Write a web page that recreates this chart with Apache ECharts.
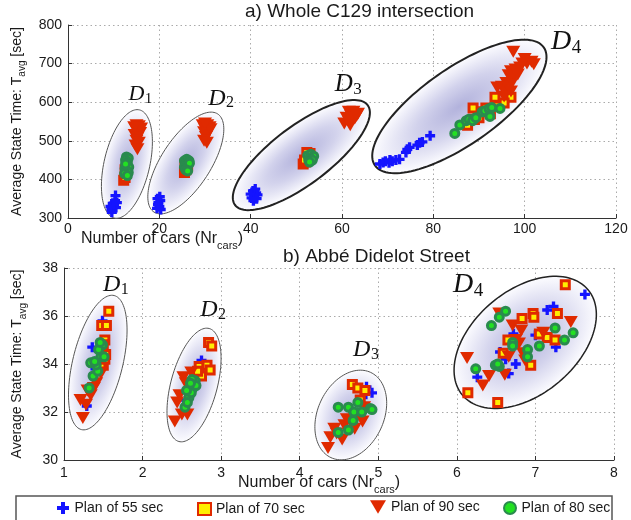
<!DOCTYPE html>
<html><head><meta charset="utf-8">
<script src="https://cdn.jsdelivr.net/npm/echarts@6/dist/echarts.min.js"></script>
<style>html,body{margin:0;padding:0;background:#fff}#c{width:631px;height:520px}</style>
</head><body><div id="c"></div>
<script>
// ---------- DATA ----------
const seriesNames = ['Plan of 55 sec', 'Plan of 70 sec', 'Plan of 90 sec', 'Plan of 80 sec'];
const topTitle = 'a) Whole C129 intersection';
const bottomTitle = 'b) Abbé Didelot Street';
const topXTicks = {min: 0, max: 120, step: 20};
const topYTicks = {min: 300, max: 800, step: 100};
const botXTicks = {min: 1, max: 8, step: 1};
const botYTicks = {min: 30, max: 38, step: 2};

// (a) Whole C129 intersection  [Nr cars, Tavg sec]
const topPlan55 = [
  [9.5,322],[10,330],[10.5,327],[9.8,338],[10.3,345],[10.4,358],[9.6,315],[10.1,335],[9.3,330],[10.7,340],
  [19.5,325],[20,330],[19.8,340],[20.2,345],[19.6,350],[20.1,355],[19.7,335],[20.3,322],
  [40.2,352],[40.8,358],[41.2,365],[40.5,370],[41,375],[40.6,345],[41.5,360],[40,362],[41.3,350],
  [68.3,440],[69,444],[69.5,447],[70.3,443],[71,447],[71.8,450],[72.6,452],[70.5,450],[74,470],[74.3,478],
  [74.8,483],[76.5,489],[77,495],[77.6,497],[79.3,513]
];
const topPlan70 = [
  [12.2,398],[12.5,405],[12.8,415],[12.5,425],
  [25.5,418],[25.8,425],[26,430],[26.2,435],[25.6,440],
  [51.5,440],[52,445],[52.5,455],[53,467],[52.3,470],[51.8,450],
  [87.5,540],[88.7,585],[89,555],[90,560],[91,575],[91.5,585],[93.5,613],[94,590],[97,613],[95.5,598],[92.5,570]
];
const topPlan90 = [
  [15,540],[15.5,538],[14.8,530],[15.3,525],[15.8,520],[14.6,515],[15.2,508],[15,500],[15.5,495],[14.8,488],[15.2,478],[16,532],[14.5,535],
  [29.5,540],[30.5,540],[31,535],[30,530],[29.8,522],[30.6,520],[30.2,510],[29.8,500],[30.4,495],[31.2,530],[30,545],
  [61.5,575],[62.5,575],[63.5,570],[62,565],[61,560],[62.8,558],[61.5,550],[60.5,545],[61.8,540],[63.2,565],
  [97.5,731],[100,712],[101.5,705],[102,698],[100.5,700],[99,690],[98,685],[97,680],[96.5,670],[97.5,660],[98.5,672],
  [96,650],[97,645],[95,640],[94,638],[96,625],[97,628],[95.5,615],[99.5,700]
];
const topPlan80 = [
  [12.8,458],[13.2,455],[12.6,450],[13,445],[12.8,438],[13.3,432],[12.5,428],[12.8,422],[13.2,418],[12.4,415],[13,410],[12.6,440],
  [25.5,448],[26,452],[26.5,448],[25.8,440],[26.3,438],[25.5,432],[26,430],[26.6,442],[25.8,425],[26.2,422],
  [52.5,462],[53.2,465],[53.8,460],[53,455],[52.7,450],[53.5,450],[52.9,445],
  [84.7,519],[85.8,541],[87.2,552],[87.8,556],[88.6,552],[89.3,560],[90.7,575],[91.3,578],[92.4,563],[92.2,583],[92.8,586],[94.6,584]
];

// (b) Abbé Didelot Street
const botPlan55 = [
  [1.29,32.25],[1.36,34.7],[1.49,35.8],[1.45,34.2],[1.40,33.8],
  [2.75,34.15],[2.6,33.0],[2.55,32.5],
  [4.85,33.05],[4.92,32.8],[4.8,32.6],
  [7.63,36.9],[7.15,36.25],[7.23,36.4],[7.26,34.7],[6.26,33.45],[7.0,35.2],[6.72,35.25],[6.66,33.6],[6.62,34.2],[6.75,34.0],[6.55,34.5]
];
const botPlan70 = [
  [1.57,36.2],[1.48,35.6],[1.54,35.6],[1.52,35.0],[1.50,34.8],[1.53,34.4],[1.50,33.95],[1.47,34.0],[1.52,34.2],
  [2.84,34.9],[2.88,34.75],[2.72,33.9],[2.82,33.95],[2.86,33.75],[2.75,33.5],[2.70,33.7],
  [4.67,33.15],[4.74,33.0],[4.83,32.9],[4.77,32.5],
  [7.38,37.3],[6.14,32.8],[6.52,32.4],[6.83,35.9],[6.97,36.1],[7.28,36.1],[7.05,35.25],[7.15,35.1],[7.25,35.0],
  [6.59,34.45],[6.65,35.0],[6.94,33.95],[6.98,35.95]
];
const botPlan90 = [
  [1.24,31.75],[1.21,32.5],[1.34,32.7],[1.30,32.9],[1.41,33.2],[1.47,33.6],[1.38,33.0],[1.28,32.3],
  [2.41,31.6],[2.57,31.9],[2.47,32.7],[2.44,32.4],[2.52,33.45],[2.62,33.65],[2.50,31.9],[2.65,33.1],[2.55,33.2],
  [4.36,30.5],[4.39,30.95],[4.44,31.3],[4.54,30.85],[4.57,31.45],[4.69,31.8],[4.80,31.6],[4.82,32.2],[4.47,31.1],[4.60,31.7],[4.70,31.3],
  [6.33,33.1],[6.13,34.25],[6.41,33.5],[6.61,33.55],[6.66,34.3],[6.71,35.6],[6.82,35.4],[6.79,34.85],[6.84,34.45],
  [7.45,35.75],[7.1,35.3],[6.87,34.15],[6.54,36.1],[6.75,35.0]
];
const botPlan80 = [
  [1.32,33.0],[1.37,33.5],[1.43,33.7],[1.34,34.05],[1.41,33.96],[1.47,34.3],[1.49,34.8],[1.44,34.6],[1.51,34.3],[1.46,34.9],[1.39,34.1],
  [2.54,32.2],[2.59,32.6],[2.64,33.0],[2.67,33.3],[2.62,32.8],[2.57,32.4],[2.63,33.35],[2.68,33.1],[2.56,32.9],[2.61,33.2],
  [4.49,32.2],[4.62,32.2],[4.74,32.4],[4.90,32.15],[4.49,31.15],[4.62,31.25],[4.68,31.65],[4.69,32.0],[4.79,32.0],[4.92,32.1],
  [6.62,36.2],[6.54,35.95],[6.44,35.6],[6.24,33.8],[6.49,33.95],[6.54,33.9],[6.71,34.9],[6.71,34.75],[6.9,34.6],[6.9,34.3],
  [7.05,34.75],[7.25,35.5],[7.37,35.0],[7.48,35.3],[6.52,34.0]
];

// Cluster annotations (ellipse centres and D-label anchors, in data units)
const clusterNames = ['1', '2', '3', '4'];
const topEllipseCenters = [[12.9,440],[25.8,442.5],[51.1,463],[85.7,589]];
const botEllipseCenters = [[1.43,34.06],[2.655,33.125],[4.65,31.875],[6.87,34.9]];
const topLabelAnchors = [[15.0,620],[32.6,610],[60.4,645],[108,756]];
const botLabelAnchors = [[1.607,37.29],[2.845,36.25],[4.79,34.6],[6.08,37.29]];

// ---------- STYLE / GEOMETRY (pixels) ----------
const topEllipseGeom = [
  {a:55.5,b:22.8,angle:77,lw:1,color:'#555'},
  {a:58.5,b:24.7,angle:57,lw:1,color:'#555'},
  {a:83,b:29,angle:37,lw:2,color:'#222'},
  {a:103,b:38,angle:35,lw:2,color:'#222'}
];
const botEllipseGeom = [
  {a:69,b:25,angle:76.3,lw:1,color:'#555'},
  {a:58.5,b:23.2,angle:75,lw:1,color:'#555'},
  {a:47,b:33,angle:65,lw:1,color:'#555'},
  {a:82,b:52,angle:40,lw:1.5,color:'#222'}
];
const topLabelSizes = [22,24,25,28];
const botLabelSizes = [24,24,24,28];

const FONT = 'Liberation Sans, Arial, sans-serif';
const SERIF = 'Liberation Serif, Times New Roman, serif';
const plusPath = 'path://M3,0H6V3H9V6H6V9H3V6H0V3H3Z';
const downTriPath = 'path://M0,0H14L7,12Z';

const ellGradient = {
  type: 'radial', x: 0.5, y: 0.5, r: 0.5,
  colorStops: [
    {offset: 0, color: '#b2b2dc'},
    {offset: 0.5, color: '#d2d2ec'},
    {offset: 1, color: '#fcfcff'}
  ]
};

function ellipseRenderer(geom) {
  return function (params, api) {
    const s = geom[params.dataIndex];
    const c = api.coord([api.value(0), api.value(1)]);
    const th = s.angle * Math.PI / 180;
    const pts = [];
    for (let i = 0; i < 120; i++) {
      const t = i / 120 * Math.PI * 2;
      const x = s.a * Math.cos(t), y = s.b * Math.sin(t);
      pts.push([c[0] + x * Math.cos(th) - y * Math.sin(th), c[1] - (x * Math.sin(th) + y * Math.cos(th))]);
    }
    return {
      type: 'group',
      children: [
        {type: 'circle', x: c[0], y: c[1], rotation: th, scaleX: s.a / s.b, scaleY: 1,
         shape: {cx: 0, cy: 0, r: s.b}, style: {fill: ellGradient}},
        {type: 'polygon', shape: {points: pts}, style: {fill: 'none', stroke: s.color, lineWidth: s.lw}}
      ]
    };
  };
}

function labelRenderer(sizes) {
  return function (params, api) {
    const fs = sizes[params.dataIndex];
    const c = api.coord([api.value(0), api.value(1)]);
    return {
      type: 'group',
      children: [
        {type: 'text', x: c[0], y: c[1], style: {text: 'D', font: 'italic ' + fs + 'px ' + SERIF,
          fill: '#111', textAlign: 'center', textVerticalAlign: 'middle'}},
        {type: 'text', x: c[0] + fs * 0.38, y: c[1] + fs * 0.2, style: {text: clusterNames[params.dataIndex],
          font: Math.round(fs * 0.68) + 'px ' + SERIF, fill: '#111', textAlign: 'left', textVerticalAlign: 'middle'}}
      ]
    };
  };
}

const axisCommon = {
  type: 'value',
  axisLine: {show: true, onZero: false, lineStyle: {color: '#333', width: 1}},
  axisTick: {show: true, inside: true, length: 4, lineStyle: {color: '#333'}},
  axisLabel: {fontSize: 14, color: '#1a1a1a', fontFamily: FONT},
  splitLine: {show: true, lineStyle: {type: [1.5, 3], color: '#aaa', width: 1}}
};

const yName = 'Average State Time: T{s|avg} [sec]';
const yNameStyle = {fontSize: 14, color: '#1a1a1a', fontFamily: FONT,
  rich: {s: {fontSize: 10, fontFamily: FONT, color: '#1a1a1a', padding: [12, 0, 0, 0]}}};

function scatterSet(d55, d70, d90, d80, idx) {
  return [
    {name: seriesNames[0], type: 'scatter', xAxisIndex: idx, yAxisIndex: idx, z: 3, data: d55,
     symbol: plusPath, symbolSize: 10, itemStyle: {color: '#1414ff', opacity: 1}},
    {name: seriesNames[1], type: 'scatter', xAxisIndex: idx, yAxisIndex: idx, z: 3, data: d70,
     symbol: 'rect', symbolSize: 8, itemStyle: {color: '#ffee00', borderColor: '#e02a00', borderWidth: 3, opacity: 1}},
    {name: seriesNames[2], type: 'scatter', xAxisIndex: idx, yAxisIndex: idx, z: 3, data: d90,
     symbol: downTriPath, symbolSize: [14, 12], itemStyle: {color: '#e02a00', opacity: 1}},
    {name: seriesNames[3], type: 'scatter', xAxisIndex: idx, yAxisIndex: idx, z: 3, data: d80,
     symbol: 'circle', symbolSize: 8, itemStyle: {color: '#22e022', borderColor: '#2a8a4e', borderWidth: 3, opacity: 1}}
  ];
}

const legendText = {fontSize: 14, color: '#1a1a1a', fontFamily: FONT};
function oneLegend(name, left, w, h, top) {
  return {data: [name], left: left, top: top, itemWidth: w, itemHeight: h, padding: 0,
    selectedMode: false, textStyle: legendText, itemGap: 0};
}

const option = {
  animation: false,
  backgroundColor: '#fff',
  title: [
    {text: topTitle, left: 245, top: 2, padding: 0,
     textStyle: {fontSize: 19, fontWeight: 'normal', fontFamily: FONT, color: '#1a1a1a'}},
    {text: bottomTitle, left: 283, top: 247, padding: 0,
     textStyle: {fontSize: 19, fontWeight: 'normal', fontFamily: FONT, color: '#1a1a1a'}},
    {text: 'Number of cars (Nr{s|cars})', left: 81, top: 226, padding: 0,
     textStyle: {fontSize: 16, fontWeight: 'normal', fontFamily: FONT, color: '#1a1a1a',
       rich: {s: {fontSize: 11, fontFamily: FONT, color: '#1a1a1a', padding: [14, 0, 0, 0]}}}},
    {text: 'Number of cars (Nr{s|cars})', left: 238, top: 470, padding: 0,
     textStyle: {fontSize: 16, fontWeight: 'normal', fontFamily: FONT, color: '#1a1a1a',
       rich: {s: {fontSize: 11, fontFamily: FONT, color: '#1a1a1a', padding: [14, 0, 0, 0]}}}}
  ],
  legend: [
    oneLegend(seriesNames[0], 57, 13, 12, 501),
    oneLegend(seriesNames[1], 197, 13, 12, 502),
    oneLegend(seriesNames[2], 370, 16, 14, 500),
    oneLegend(seriesNames[3], 503, 13, 12, 501)
  ],
  graphic: [
    {type: 'rect', shape: {x: 16, y: 496, width: 596, height: 40}, style: {fill: 'none', stroke: '#555', lineWidth: 1.5}, z: -1}
  ],
  grid: [
    {left: 68, right: 15, top: 25, height: 193},
    {left: 64, right: 17, top: 268, height: 192}
  ],
  xAxis: [
    Object.assign({}, axisCommon, {gridIndex: 0, min: topXTicks.min, max: topXTicks.max, interval: topXTicks.step,
      axisLabel: Object.assign({}, axisCommon.axisLabel, {margin: 4})}),
    Object.assign({}, axisCommon, {gridIndex: 1, min: botXTicks.min, max: botXTicks.max, interval: botXTicks.step,
      axisLabel: Object.assign({}, axisCommon.axisLabel, {margin: 6})})
  ],
  yAxis: [
    Object.assign({}, axisCommon, {gridIndex: 0, min: topYTicks.min, max: topYTicks.max, interval: topYTicks.step,
      name: yName, nameLocation: 'middle', nameRotate: 90, nameGap: 40, nameTextStyle: yNameStyle,
      axisLabel: Object.assign({}, axisCommon.axisLabel, {margin: 6})}),
    Object.assign({}, axisCommon, {gridIndex: 1, min: botYTicks.min, max: botYTicks.max, interval: botYTicks.step,
      name: yName, nameLocation: 'middle', nameRotate: 90, nameGap: 36, nameTextStyle: yNameStyle,
      axisLabel: Object.assign({}, axisCommon.axisLabel, {margin: 6})})
  ],
  series: [
    {type: 'custom', xAxisIndex: 0, yAxisIndex: 0, z: 1, silent: true, data: topEllipseCenters,
     renderItem: ellipseRenderer(topEllipseGeom), clip: false},
    {type: 'custom', xAxisIndex: 1, yAxisIndex: 1, z: 1, silent: true, data: botEllipseCenters,
     renderItem: ellipseRenderer(botEllipseGeom), clip: false},
    ...scatterSet(topPlan55, topPlan70, topPlan90, topPlan80, 0),
    ...scatterSet(botPlan55, botPlan70, botPlan90, botPlan80, 1),
    {type: 'custom', xAxisIndex: 0, yAxisIndex: 0, z: 5, silent: true, data: topLabelAnchors,
     renderItem: labelRenderer(topLabelSizes), clip: false},
    {type: 'custom', xAxisIndex: 1, yAxisIndex: 1, z: 5, silent: true, data: botLabelAnchors,
     renderItem: labelRenderer(botLabelSizes), clip: false}
  ]
};
const chart = echarts.init(document.getElementById('c'), null, {renderer: 'canvas'});
chart.setOption(option);
</script>
</body></html>
